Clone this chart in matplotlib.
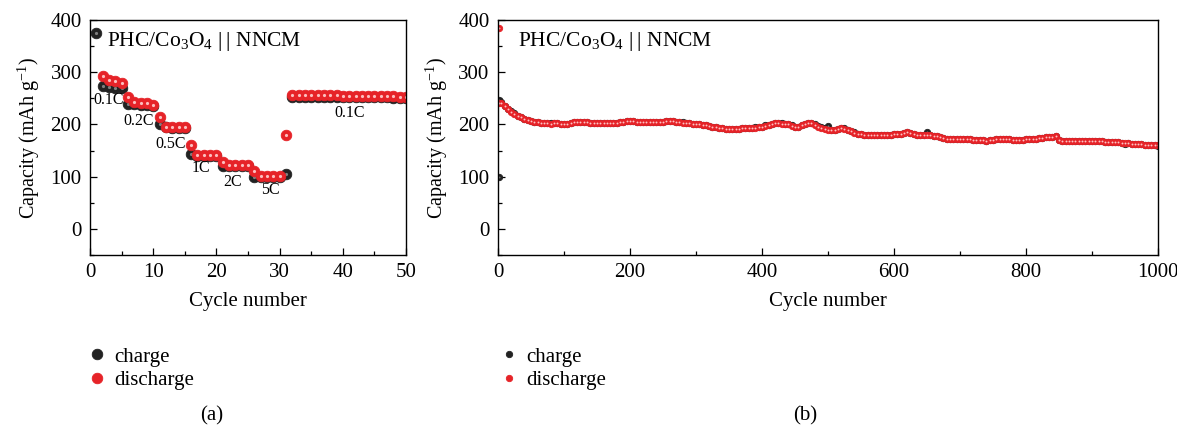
import numpy as np
import matplotlib
matplotlib.use("Agg")
from matplotlib import pyplot as plt
from matplotlib.ticker import MultipleLocator

plt.rcParams['font.family'] = ['Liberation Serif', 'DejaVu Serif']
plt.rcParams['mathtext.fontset'] = 'custom'
plt.rcParams['mathtext.rm'] = 'Liberation Serif'
plt.rcParams['mathtext.it'] = 'Liberation Serif:italic'

# (a) rate test, cycles 1-50
rate_cycles = list(range(1, 51))
rate_charge = [375, 274, 272, 270, 269, 240, 239, 238, 237, 236,
               200, 195, 194, 194, 194, 144, 140, 140, 140, 140,
               121, 120, 120, 120, 120, 100, 100, 100, 100, 100,
               106, 252, 253, 253, 253, 253, 253, 252, 252, 252,
               252, 252, 252, 252, 252, 252, 252, 251, 251, 250]
rate_dis_cycles = list(range(2, 51))
rate_discharge = [293, 286, 283, 280, 252, 243, 242, 241, 238,
                  214, 196, 195, 195, 195, 160, 141, 141, 141, 141,
                  129, 122, 122, 122, 122, 111, 102, 101, 101, 101,
                  179, 256, 257, 257, 257, 257, 256, 256, 256, 255,
                  255, 255, 255, 255, 254, 254, 254, 254, 253, 252]
rate_labels = ['0.1C', '0.2C', '0.5C', '1C', '2C', '5C', '0.1C']
rate_label_x = [2.9, 7.7, 12.8, 17.6, 22.5, 28.6, 41.0]
rate_label_y = [247, 206, 162, 116, 89, 74, 222]

# (b) long cycling, 1000 cycles
long_cycles = [1, 2] + list(range(5, 1001, 5))
long_discharge = [
    385, 242,
    241, 235, 229, 224, 220, 217, 214, 211, 208, 206,
    205, 204, 203, 202, 202, 201, 202, 202, 201, 200,
    201, 203, 204, 205, 205, 204, 204, 203, 202, 202,
    202, 202, 202, 202, 203, 203, 204, 205, 206, 207,
    206, 205, 204, 204, 204, 204, 204, 204, 205, 205,
    206, 207, 206, 205, 204, 203, 203, 202, 201, 200,
    200, 199, 198, 197, 196, 195, 194, 193, 192, 191,
    191, 191, 192, 193, 193, 194, 194, 194, 195, 196,
    197, 199, 201, 202, 202, 201, 201, 200, 197, 195,
    196, 198, 200, 202, 203, 199, 196, 194, 192, 190,
    189, 190, 192, 193, 192, 190, 187, 184, 182, 181,
    180, 179, 179, 179, 179, 179, 180, 180, 180, 181,
    181, 182, 184, 185, 184, 181, 180, 179, 179, 179,
    179, 178, 177, 175, 174, 173, 172, 172, 172, 172,
    172, 172, 172, 171, 171, 170, 170, 169, 170, 171,
    172, 172, 172, 172, 172, 171, 170, 170, 171, 172,
    172, 173, 173, 174, 174, 175, 175, 176, 177, 170,
    169, 169, 169, 169, 169, 169, 169, 169, 169, 168,
    168, 168, 168, 167, 167, 166, 166, 166, 165, 164,
    164, 163, 163, 162, 162, 161, 161, 160, 160, 160]
long_charge = [
    100, 246,
    243, 236, 230, 225, 221, 217, 214, 211, 208, 206,
    205, 204, 203, 203, 202, 202, 202, 202, 201, 201,
    201, 203, 204, 205, 205, 205, 204, 203, 202, 202,
    202, 202, 202, 202, 203, 203, 204, 205, 206, 207,
    206, 205, 205, 204, 204, 204, 204, 204, 205, 205,
    206, 207, 207, 205, 204, 204, 203, 202, 201, 200,
    200, 199, 198, 197, 196, 195, 194, 193, 192, 192,
    191, 191, 192, 193, 193, 194, 194, 195, 195, 196,
    198, 199, 201, 202, 202, 202, 201, 200, 198, 196,
    196, 198, 200, 202, 203, 200, 197, 195, 193, 197,
    190, 190, 192, 193, 193, 190, 187, 185, 182, 181,
    180, 179, 179, 179, 179, 179, 180, 180, 180, 181,
    182, 182, 184, 185, 184, 182, 180, 180, 179, 186,
    179, 178, 177, 176, 174, 173, 173, 172, 172, 172,
    172, 172, 172, 171, 171, 170, 170, 169, 170, 171,
    172, 172, 172, 172, 172, 171, 171, 170, 171, 172,
    172, 173, 173, 174, 174, 175, 175, 176, 177, 170,
    169, 169, 169, 169, 169, 169, 169, 169, 169, 168,
    168, 168, 168, 167, 167, 166, 166, 166, 165, 163,
    164, 163, 163, 162, 162, 161, 161, 160, 160, 159]

red = '#e62328'
dark = '#222222'
title = 'PHC/Co$_3$O$_4$ |\u2009| NNCM'


def shiny(ax, x, y, color, hi, size, label):
    # sphere-like dots: a filled circle with a small light spot on top
    ax.plot(x, y, 'o', ls='none', color=color, mec=color, ms=size, mew=0.6, label=label)
    ax.plot(x, y, 'o', ls='none', color=hi, mec='none', ms=size * 0.3, alpha=0.9)


def style_axes(ax, xmax, xmajor, xminor):
    ax.set_xlim(0, xmax)
    ax.set_ylim(-50, 400)
    ax.xaxis.set_major_locator(MultipleLocator(xmajor))
    ax.xaxis.set_minor_locator(MultipleLocator(xminor))
    ax.yaxis.set_major_locator(MultipleLocator(100))
    ax.yaxis.set_minor_locator(MultipleLocator(50))
    ax.tick_params(which='both', direction='in', labelsize=15, width=0.9)
    ax.tick_params(which='major', length=5, pad=6)
    ax.tick_params(which='minor', length=3)
    for s in ax.spines.values():
        s.set_linewidth(1.0)
    ax.set_xlabel('Cycle number', fontsize=15, labelpad=7)
    ax.set_ylabel('Capacity (mAh g$^{-1}$)', fontsize=14.5, labelpad=6)


fig = plt.figure(figsize=(11.77, 4.29), dpi=100)
ax1 = fig.add_axes([0.0765, 0.4056, 0.2685, 0.5478])
ax2 = fig.add_axes([0.4231, 0.4056, 0.5607, 0.5478])

shiny(ax1, rate_cycles, rate_charge, dark, '#8a8a8a', 7.6, 'charge')
shiny(ax1, rate_dis_cycles, rate_discharge, red, '#ffd0d0', 7.6, 'discharge')
for lab, lx, ly in zip(rate_labels, rate_label_x, rate_label_y):
    ax1.text(lx, ly, lab, fontsize=11.5, ha='center', va='center')
ax1.text(2.7, 358, title, fontsize=15.5, va='center')
style_axes(ax1, 50, 10, 5)

shiny(ax2, long_cycles, long_charge, dark, '#8a8a8a', 4.6, 'charge')
shiny(ax2, long_cycles, long_discharge, red, '#ffd6d6', 4.6, 'discharge')
ax2.text(30, 358, title, fontsize=15.5, va='center')
style_axes(ax2, 1000, 200, 100)

for ax, x0 in ((ax1, 0.061), (ax2, 0.411)):
    ax.legend(loc='upper left', bbox_to_anchor=(x0, 0.225), bbox_transform=fig.transFigure,
              frameon=False, fontsize=15, handletextpad=0.35, labelspacing=0.2,
              handlelength=1.0, borderpad=0.2)

fig.text(0.180, 0.02, '(a)', fontsize=15, ha='center')
fig.text(0.684, 0.02, '(b)', fontsize=15, ha='center')

fig.savefig('out.png', dpi=100)
